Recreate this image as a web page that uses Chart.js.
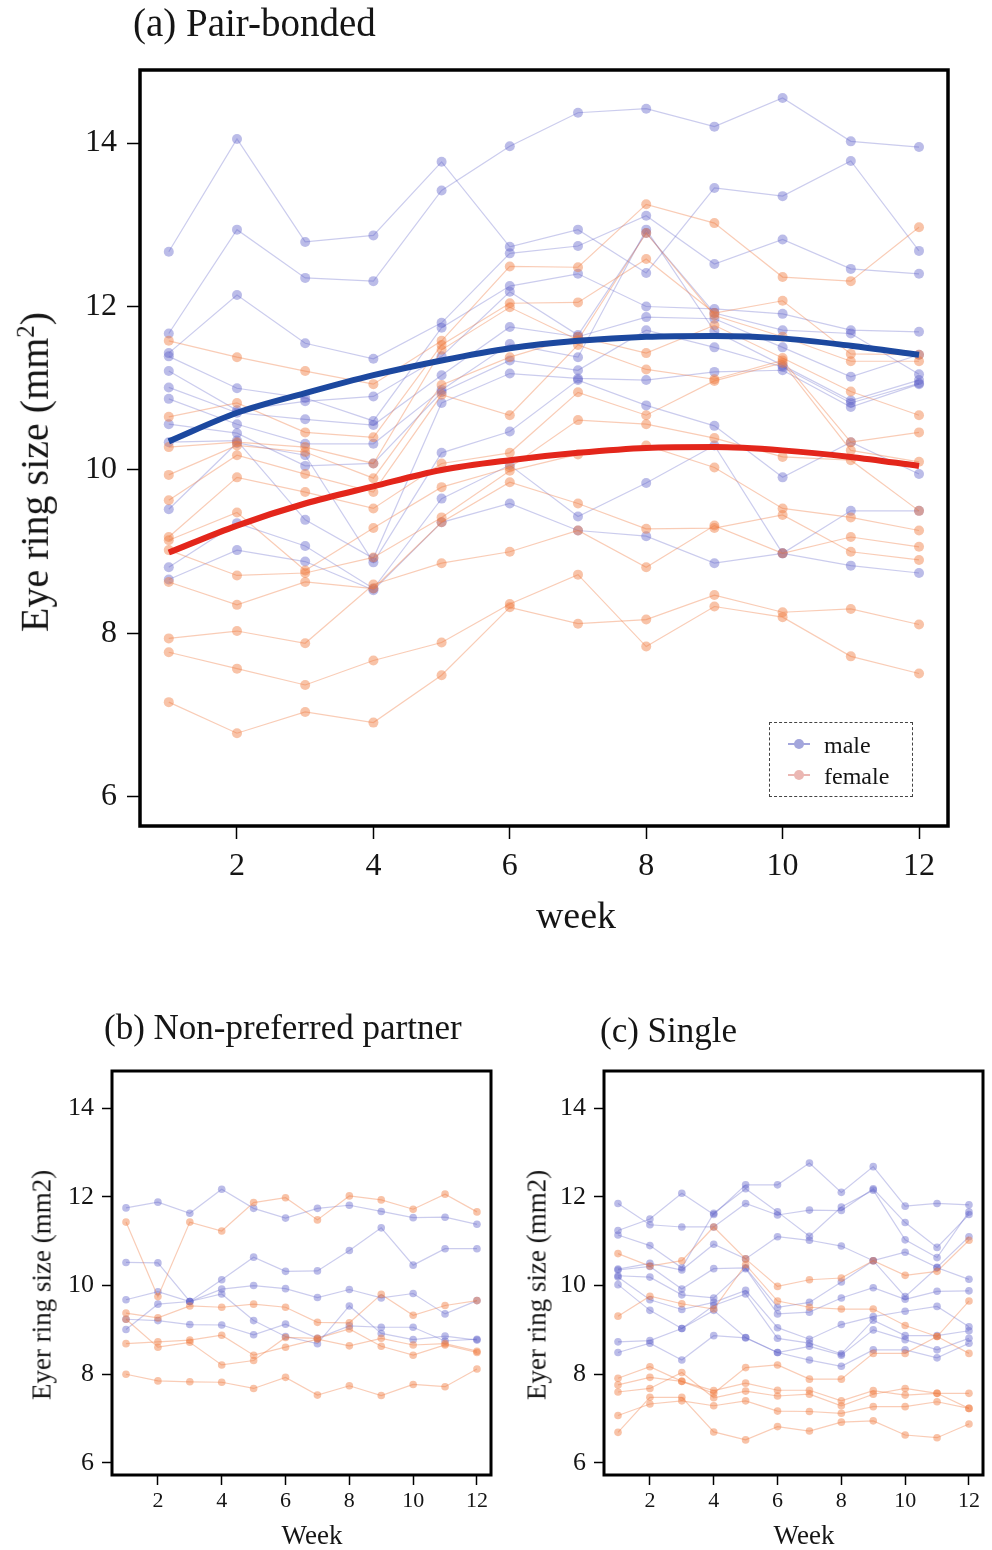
<!DOCTYPE html>
<html>
<head>
<meta charset="utf-8">
<script src="https://cdn.jsdelivr.net/npm/chart.js@4/dist/chart.umd.min.js"></script>
<style>
body { margin:0; background:#fff; width:992px; height:1550px; position:relative; overflow:hidden;
       font-family:"Liberation Serif", "Times New Roman", serif; color:#151515; }
canvas { position:absolute; }
.t { position:absolute; white-space:nowrap; line-height:1; }
.rot { transform:translate(-50%,-50%) rotate(-90deg); }
.ctr { transform:translate(-50%,-50%); }
.lg { position:absolute; left:769px; top:722px; width:142px; height:73px; border:1.5px dashed #444; }
.lg .row { position:absolute; left:18px; font-size:24px; line-height:1; }
.lg .mk { display:inline-block; position:relative; width:22px; height:2px; vertical-align:middle; margin-right:14px; top:-3px; }
.lg .mk i { position:absolute; left:6px; top:-4px; width:10px; height:10px; border-radius:5px; }
</style>
</head>
<body>

<canvas id="chartA" width="992" height="960" style="left:0;top:0"></canvas>
<canvas id="chartB" width="500" height="500" style="left:0;top:1040px"></canvas>
<canvas id="chartC" width="500" height="500" style="left:492px;top:1040px"></canvas>

<div class="t" style="left:133px;top:3px;font-size:39px">(a) Pair-bonded</div>
<div class="t rot" style="left:34px;top:472px;font-size:40px">Eye ring size (mm<sup style="font-size:25px">2</sup>)</div>
<div class="t ctr" style="left:576px;top:915px;font-size:38px">week</div>

<div class="lg">
  <div class="row" style="top:10px"><span class="mk" style="background:#a3a6dc"><i style="background:#a3a6dc"></i></span>male</div>
  <div class="row" style="top:41px"><span class="mk" style="background:#ebb7b3"><i style="background:#ebb7b3"></i></span>female</div>
</div>

<div class="t" style="left:104px;top:1010px;font-size:35px">(b) Non-preferred partner</div>
<div class="t rot" style="left:42px;top:1285px;font-size:27px">Eyer ring size (mm2)</div>
<div class="t ctr" style="left:312px;top:1535px;font-size:27px">Week</div>

<div class="t" style="left:600px;top:1013px;font-size:35px">(c) Single</div>
<div class="t rot" style="left:537px;top:1285px;font-size:27px">Eyer ring size (mm2)</div>
<div class="t ctr" style="left:804px;top:1535px;font-size:27px">Week</div>

<script>
// weeks and tick values
var weeks = [1, 2, 3, 4, 5, 6, 7, 8, 9, 10, 11, 12];
var yTicks = [6, 8, 10, 12, 14];
var xTicks = [2, 4, 6, 8, 10, 12];

// (a) pair-bonded, one row per bird
var pairMale = [
  [12.67, 14.05, 12.79, 12.87, 13.77, 12.73, 12.94, 12.41, 13.45, 13.35, 13.78, 12.68],
  [11.67, 12.94, 12.35, 12.31, 13.42, 13.96, 14.37, 14.42, 14.20, 14.55, 14.02, 13.95],
  [11.43, 12.14, 11.55, 11.36, 11.80, 12.65, 12.74, 13.11, 12.52, 12.82, 12.46, 12.40],
  [11.39, 11.00, 10.88, 10.60, 11.74, 12.25, 12.40, 12.00, 11.97, 11.91, 11.71, 11.69],
  [11.21, 10.73, 10.84, 10.90, 11.39, 12.18, 11.65, 12.90, 11.92, 11.71, 11.67, 11.17],
  [11.01, 10.70, 10.62, 10.55, 11.16, 11.75, 11.63, 11.87, 11.85, 11.50, 11.14, 11.41],
  [10.87, 10.56, 10.32, 10.32, 10.98, 11.54, 11.38, 12.94, 11.70, 11.28, 10.85, 11.10],
  [10.56, 10.45, 10.05, 10.08, 10.95, 11.34, 11.22, 11.71, 11.50, 11.26, 10.82, 11.06],
  [10.34, 10.36, 9.39, 8.92, 10.82, 11.18, 11.12, 11.10, 11.20, 11.22, 10.77, 11.05],
  [9.52, 10.33, 10.18, 8.87, 10.21, 10.47, 11.10, 10.79, 10.54, 9.91, 10.34, 9.95],
  [8.81, 9.35, 9.07, 8.55, 9.65, 10.06, 9.43, 9.84, 10.30, 8.98, 9.50, 9.50],
  [8.66, 9.02, 8.88, 8.53, 9.36, 9.59, 9.26, 9.19, 8.86, 8.98, 8.83, 8.74]
];
var pairFemale = [
  [11.58, 11.38, 11.21, 11.05, 11.58, 12.49, 12.48, 13.25, 13.02, 12.36, 12.31, 12.97],
  [10.65, 10.82, 10.46, 10.40, 11.53, 12.04, 12.05, 12.58, 11.92, 12.07, 11.42, 11.41],
  [10.28, 10.34, 10.28, 10.08, 11.47, 11.99, 11.59, 12.90, 11.89, 11.63, 11.33, 11.33],
  [9.94, 10.30, 10.22, 9.90, 11.04, 11.38, 11.63, 11.43, 11.77, 11.37, 10.96, 10.67],
  [9.63, 10.18, 9.95, 9.73, 10.92, 10.67, 11.53, 11.23, 11.11, 11.34, 10.34, 10.46],
  [9.18, 9.91, 9.73, 9.53, 10.08, 10.21, 10.95, 10.67, 11.09, 11.31, 10.24, 10.10],
  [9.14, 9.48, 8.77, 9.29, 9.79, 10.03, 10.61, 10.56, 10.39, 10.16, 10.12, 9.50],
  [9.02, 8.71, 8.74, 8.93, 9.42, 9.99, 10.19, 10.30, 10.03, 9.53, 9.42, 9.26],
  [8.63, 8.35, 8.63, 8.55, 9.36, 9.85, 9.59, 9.28, 9.29, 9.45, 9.00, 8.90],
  [7.94, 8.03, 7.88, 8.60, 8.86, 9.00, 9.26, 8.81, 9.32, 8.98, 9.18, 9.06],
  [7.77, 7.57, 7.37, 7.67, 7.89, 8.36, 8.72, 7.84, 8.33, 8.20, 7.72, 7.51],
  [7.16, 6.78, 7.04, 6.91, 7.49, 8.32, 8.12, 8.17, 8.47, 8.26, 8.30, 8.11]
];
// fitted curves
var pairFitMale = [10.35, 10.70, 10.94, 11.16, 11.34, 11.49, 11.58, 11.63, 11.64, 11.61, 11.52, 11.41];
var pairFitFemale = [8.99, 9.32, 9.59, 9.80, 10.00, 10.12, 10.21, 10.27, 10.28, 10.24, 10.16, 10.05];

// (b) non-preferred partner
var nonMale = [
  [11.75, 11.88, 11.63, 12.17, 11.74, 11.52, 11.74, 11.81, 11.67, 11.53, 11.54, 11.38],
  [10.52, 10.51, 9.64, 10.13, 10.64, 10.32, 10.33, 10.79, 11.30, 10.46, 10.83, 10.83],
  [9.68, 9.86, 9.64, 9.92, 10.00, 9.93, 9.73, 9.91, 9.72, 9.82, 9.36, 9.66],
  [9.01, 9.58, 9.64, 9.81, 9.21, 8.85, 8.69, 9.54, 8.92, 8.78, 8.86, 8.77],
  [9.24, 9.21, 9.12, 9.11, 8.89, 9.13, 8.81, 9.09, 9.06, 9.06, 8.75, 8.79]
];
var nonFemale = [
  [11.43, 9.75, 11.43, 11.23, 11.87, 11.98, 11.48, 12.02, 11.93, 11.72, 12.06, 11.66],
  [9.38, 9.27, 9.54, 9.51, 9.58, 9.51, 9.17, 9.16, 9.80, 9.33, 9.55, 9.66],
  [9.24, 8.61, 8.72, 8.21, 8.31, 8.83, 8.81, 9.02, 8.63, 8.43, 8.66, 8.49],
  [8.69, 8.73, 8.77, 8.88, 8.43, 8.61, 8.79, 8.64, 8.81, 8.66, 8.69, 8.52],
  [8.00, 7.85, 7.83, 7.82, 7.68, 7.93, 7.53, 7.74, 7.52, 7.77, 7.72, 8.12]
];

// (c) single
var singleMale = [
  [11.24, 11.50, 12.08, 11.60, 12.27, 12.27, 12.76, 12.10, 12.68, 11.79, 11.85, 11.82],
  [11.85, 11.37, 11.32, 11.32, 11.85, 11.59, 11.70, 11.69, 12.18, 11.42, 10.86, 11.60],
  [11.14, 10.90, 10.40, 11.63, 12.18, 11.66, 11.11, 11.77, 12.15, 11.03, 10.63, 11.66],
  [10.37, 10.50, 10.35, 10.93, 10.60, 11.10, 11.02, 10.89, 10.56, 10.75, 10.41, 11.10],
  [10.35, 10.43, 9.92, 10.38, 10.40, 9.51, 9.62, 10.08, 10.56, 9.75, 10.40, 10.14],
  [10.22, 10.19, 9.79, 9.72, 10.38, 9.36, 9.40, 9.72, 9.95, 9.69, 9.87, 9.88],
  [10.19, 9.68, 9.46, 9.62, 9.89, 9.05, 8.79, 9.12, 9.30, 9.42, 9.53, 9.07],
  [10.02, 9.44, 9.03, 9.55, 9.81, 8.81, 8.70, 8.46, 9.22, 8.87, 8.87, 8.98],
  [8.73, 8.76, 9.03, 9.44, 8.83, 8.49, 8.63, 8.43, 9.00, 8.78, 8.55, 8.81],
  [8.49, 8.70, 8.32, 8.87, 8.82, 8.49, 8.32, 8.18, 8.55, 8.55, 8.37, 8.70]
];
var singleFemale = [
  [10.72, 10.44, 10.56, 11.32, 10.60, 9.98, 10.13, 10.17, 10.56, 10.23, 10.32, 11.02],
  [9.31, 9.76, 9.59, 9.47, 10.47, 9.65, 9.51, 9.47, 9.47, 9.10, 8.85, 8.47],
  [7.91, 8.17, 7.84, 7.57, 8.15, 8.21, 7.89, 7.89, 8.47, 8.47, 8.85, 9.65],
  [7.76, 7.93, 7.84, 7.63, 7.80, 7.64, 7.64, 7.40, 7.63, 7.53, 7.57, 7.23],
  [7.60, 7.68, 8.04, 7.47, 7.62, 7.51, 7.55, 7.29, 7.55, 7.68, 7.57, 7.57],
  [7.07, 7.33, 7.40, 7.29, 7.40, 7.17, 7.16, 7.12, 7.27, 7.27, 7.38, 7.23],
  [6.69, 7.48, 7.48, 6.70, 6.52, 6.82, 6.72, 6.92, 6.95, 6.63, 6.57, 6.88]
];

var maleCol = "rgba(92,96,200,0.42)";
var maleLine = "rgba(92,96,200,0.32)";
var femaleCol = "rgba(240,122,62,0.45)";
var femaleLine = "rgba(240,122,62,0.38)";

// draws the black box round the plot area
var framePlugin = {
  id: "frame",
  afterDraw: function(chart, args, opts) {
    var a = chart.chartArea, c = chart.ctx;
    c.save();
    c.lineWidth = opts.width || 3;
    c.strokeStyle = "#000";
    c.strokeRect(a.left, a.top, a.right - a.left, a.bottom - a.top);
    c.restore();
  }
};

function pts(vals) {
  return vals.map(function(v, i) { return { x: weeks[i], y: v }; });
}

function birdSets(rows, col, line, r) {
  return rows.map(function(row) {
    return { data: pts(row), borderColor: line, backgroundColor: col, borderWidth: 1.2,
             pointRadius: r, pointBorderWidth: 0, pointHoverRadius: r, order: 1 };
  });
}

function makePanel(id, p) {
  var sets = birdSets(p.female, femaleCol, femaleLine, p.r).concat(birdSets(p.male, maleCol, maleLine, p.r));
  if (p.fitMale) {
    sets.push({ data: pts(p.fitMale), borderColor: "#1c489f", borderWidth: 6, pointRadius: 0,
                cubicInterpolationMode: "monotone", order: 0 });
    sets.push({ data: pts(p.fitFemale), borderColor: "#e3261b", borderWidth: 6, pointRadius: 0,
                cubicInterpolationMode: "monotone", order: 0 });
  }
  return new Chart(document.getElementById(id), {
    type: "line",
    data: { datasets: sets },
    options: {
      responsive: false, animation: false, devicePixelRatio: 1,
      layout: { padding: p.pad },
      plugins: { legend: { display: false }, tooltip: { enabled: false }, frame: { width: p.frame } },
      scales: {
        x: {
          type: "linear", min: p.xmin, max: p.xmax,
          afterBuildTicks: function(s) { s.ticks = xTicks.map(function(v) { return { value: v }; }); },
          afterFit: function(s) { s.height = p.xh; },
          grid: { drawOnChartArea: false, tickLength: p.tick, tickWidth: 1.5, tickColor: "#000" },
          border: { display: false },
          ticks: { color: "#151515", padding: p.xpad, maxRotation: 0,
                   font: { family: "Liberation Serif", size: p.xfont } }
        },
        y: {
          min: p.ymin, max: p.ymax,
          afterBuildTicks: function(s) { s.ticks = yTicks.map(function(v) { return { value: v }; }); },
          afterFit: function(s) { s.width = p.yw; },
          grid: { drawOnChartArea: false, tickLength: p.tick, tickWidth: 1.5, tickColor: "#000" },
          border: { display: false },
          ticks: { color: "#151515", padding: p.ypad,
                   font: { family: "Liberation Serif", size: p.yfont } }
        }
      }
    },
    plugins: [framePlugin]
  });
}

makePanel("chartA", {
  male: pairMale, female: pairFemale, fitMale: pairFitMale, fitFemale: pairFitFemale,
  r: 5, frame: 3.5, tick: 13,
  pad: { left: 0, top: 70, right: 44, bottom: 0 }, yw: 140, xh: 134,
  xmin: 0.578, xmax: 12.425, ymin: 5.645, ymax: 14.893,
  xfont: 32, yfont: 32, xpad: 8, ypad: 10
});

makePanel("chartB", {
  male: nonMale, female: nonFemale, r: 3.8, frame: 3, tick: 10,
  pad: { left: 0, top: 31, right: 9, bottom: 0 }, yw: 112, xh: 65,
  xmin: 0.561, xmax: 12.44, ymin: 5.729, ymax: 14.836,
  xfont: 22, yfont: 26, xpad: 3, ypad: 8
});

makePanel("chartC", {
  male: singleMale, female: singleFemale, r: 3.8, frame: 3, tick: 10,
  pad: { left: 0, top: 31, right: 9, bottom: 0 }, yw: 112, xh: 65,
  xmin: 0.561, xmax: 12.44, ymin: 5.729, ymax: 14.836,
  xfont: 22, yfont: 26, xpad: 3, ypad: 8
});
</script>
</body>
</html>
